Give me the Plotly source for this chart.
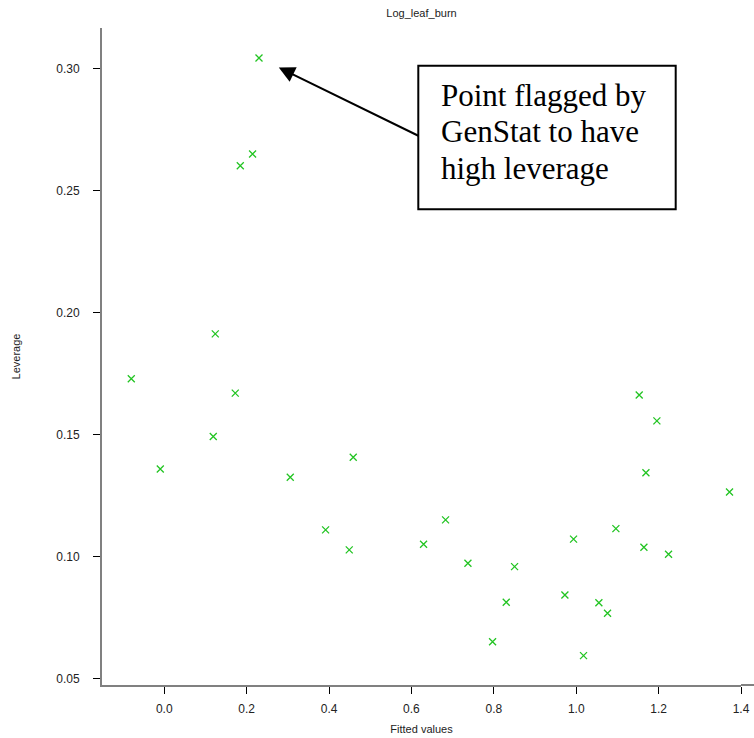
import plotly.graph_objects as go

# ---- data ----
fitted = [0.2299, 0.2143, 0.1845, 0.1238, -0.0801, 0.1723, 0.1189, -0.0097,
          0.3058, 0.4587, 0.3916, 0.4490, 0.6828, 0.6294, 0.7371, 0.7969,
          1.1529, 1.1958, 1.1692, 1.3721, 1.0963, 0.9935, 1.1643, 1.2241,
          0.8503, 0.8301, 0.9725, 1.0550, 1.0760, 1.0177]
leverage = [0.3045, 0.2651, 0.2603, 0.1913, 0.1729, 0.1670, 0.1492, 0.1359,
            0.1325, 0.1407, 0.1109, 0.1027, 0.1150, 0.1050, 0.0972, 0.0650,
            0.1662, 0.1556, 0.1343, 0.1264, 0.1114, 0.1071, 0.1038, 0.1009,
            0.0958, 0.0812, 0.0842, 0.0810, 0.0767, 0.0593]
x_ticks = [0.0, 0.2, 0.4, 0.6, 0.8, 1.0, 1.2, 1.4]
y_ticks = [0.05, 0.10, 0.15, 0.20, 0.25, 0.30]
chart_title = "Log_leaf_burn"
x_title = "Fitted values"
y_title = "Leverage"
note_lines = ["Point flagged by", "GenStat to have", "high leverage"]

# ---- layout geometry (page pixels; body margin removed below) ----
W, H = 754, 738
PL, PR, PT, PB = 102, 741, 28, 685          # plot area in page pixels
L, R, T, B = PL, W - PR, PT, H - PB


def px(X):
    return (X - PL) / (PR - PL)


def py(Y):
    return (PB - Y) / (PB - PT)


sans = "Liberation Sans, Arial, sans-serif"
serif = "Liberation Serif, Times New Roman, serif"

fig = go.Figure()
fig.add_trace(go.Scatter(
    x=fitted, y=leverage, mode="markers",
    marker=dict(symbol="x-thin", size=7, color="#22c422",
                line=dict(color="#22c422", width=1.3)),
    showlegend=False, hoverinfo="x+y"))

axis_common = dict(showline=True, linecolor="#808080", linewidth=2,
                   ticks="outside", tickcolor="#000000", tickwidth=1, ticklen=7,
                   showgrid=False, zeroline=False, mirror=False,
                   tickfont=dict(family=sans, size=12, color="#222222"),
                   title_font=dict(family=sans, size=11, color="#222222"))

fig.update_xaxes(range=[-0.1512, 1.4], tickvals=x_ticks,
                 ticktext=[f"{v:.1f}" for v in x_ticks],
                 title_text=x_title, title_standoff=10,
                 ticklabelstandoff=5, **axis_common)
fig.update_yaxes(range=[0.04725, 0.3168], tickvals=y_ticks,
                 ticktext=[f"{v:.2f}" for v in y_ticks],
                 title_text=y_title, title_standoff=33,
                 ticklabelstandoff=11, **axis_common)

# extension of the bottom axis line to the edge
fig.add_shape(type="line", xref="paper", yref="paper",
              x0=1, x1=px(754), y0=0, y1=0,
              line=dict(color="#808080", width=2))

# note box
fig.add_shape(type="rect", xref="paper", yref="paper",
              x0=px(418.3), x1=px(675.7), y0=py(209.3), y1=py(65.7),
              line=dict(color="#000000", width=2), fillcolor="white", layer="above")

for line, cy in zip(note_lines, [95, 131.7, 168.3]):
    fig.add_annotation(xref="paper", yref="paper", x=px(439.3), y=py(cy),
                       xanchor="left", yanchor="middle", text=line, showarrow=False,
                       font=dict(family=serif, size=31, color="#000000"))

# arrow pointing at the flagged point
fig.add_annotation(x=0.278, y=0.3006, xref="x", yref="y", text="",
                   showarrow=True, arrowhead=2, arrowsize=1.6, arrowwidth=2,
                   arrowcolor="#000000", ax=141, ay=69, axref="pixel", ayref="pixel")

fig.update_layout(
    width=W, height=H, margin=dict(l=L, r=R, t=T, b=B, autoexpand=False),
    paper_bgcolor="white", plot_bgcolor="white",
    title=dict(text=chart_title, x=px(421.5), xref="paper", xanchor="center",
               y=1 - 13 / H, yanchor="middle",
               font=dict(family=sans, size=11, color="#222222")),
)

fig.write_html("out.html",
               config={"displayModeBar": False},
               post_script="document.body.style.margin='0';"
                           "document.body.style.overflow='hidden';")
